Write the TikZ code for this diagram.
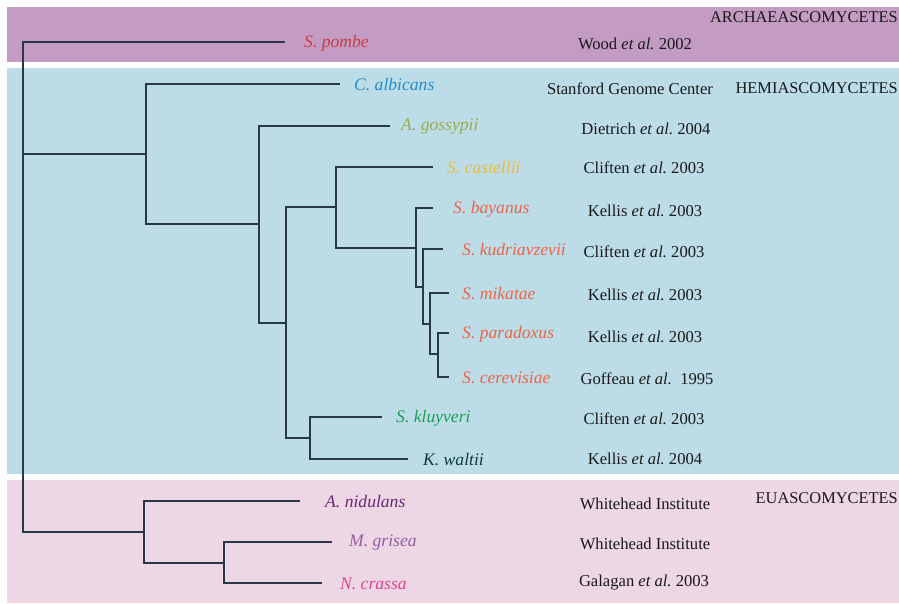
\documentclass[tikz,border=0pt]{standalone}
\usepackage{fontspec}
\setmainfont{Liberation Serif}
\definecolor{bandA}{RGB}{196,155,195}
\definecolor{bandH}{RGB}{188,221,232}
\definecolor{bandE}{RGB}{237,215,229}
\definecolor{branch}{RGB}{40,56,72}
\definecolor{cpombe}{RGB}{200,60,66}
\definecolor{calb}{RGB}{38,140,200}
\definecolor{cgos}{RGB}{152,172,74}
\definecolor{ccas}{RGB}{238,186,62}
\definecolor{csac}{RGB}{238,100,72}
\definecolor{cklu}{RGB}{30,158,82}
\definecolor{cwal}{RGB}{16,60,56}
\definecolor{cnid}{RGB}{104,40,120}
\definecolor{cgri}{RGB}{150,92,160}
\definecolor{ccra}{RGB}{222,66,140}
\definecolor{txt}{RGB}{25,25,25}
\tikzset{
  br/.style={draw=branch,line width=1.6pt,line join=miter},
  sp/.style={anchor=west,inner sep=0pt,font=\fontsize{17.6}{19}\selectfont\itshape},
  ref/.style={anchor=center,inner sep=0pt,text=txt,font=\fontsize{16.6}{19}\selectfont},
  grp/.style={anchor=east,inner sep=0pt,text=txt,font=\fontsize{16.4}{19}\selectfont},
}
\newcommand{\etal}{\textit{et al.}}
\begin{document}
\begin{tikzpicture}[x=1pt,y=-1pt]
\useasboundingbox (0,0) rectangle (899,604);
% bands
\fill[bandA] (7,7) rectangle (899,62);
\fill[bandH] (7,68) rectangle (899,474);
\fill[bandE] (7,480) rectangle (899,603);
% group labels
\node[grp] (gA) at (898,17) {ARCHAEASCOMYCETES};
\node[grp] (gH) at (898,88) {HEMIASCOMYCETES};
\node[grp] (gE) at (898,498) {EUASCOMYCETES};
% branch tips
\coordinate (tpombe) at (285,42);
\coordinate (talb) at (340,84);
\coordinate (tgos) at (390,126);
\coordinate (tcas) at (433,167);
\coordinate (tbay) at (433,208);
\coordinate (tkud) at (443,249);
\coordinate (tmik) at (449,293);
\coordinate (tpar) at (449,333);
\coordinate (tcer) at (449,377);
\coordinate (tklu) at (382,417);
\coordinate (twal) at (408,459);
\coordinate (tnid) at (300,501);
\coordinate (tgri) at (332,542);
\coordinate (tcra) at (322,583);
% internal nodes
\coordinate (root) at (23,42);
\coordinate (hemi) at (146,154);
\coordinate (nA) at (259,224);
\coordinate (nB) at (286,323);
\coordinate (nC) at (336,207);
\coordinate (nD) at (416,248);
\coordinate (nE) at (423,287);
\coordinate (nF) at (430,324);
\coordinate (nG) at (438,354);
\coordinate (nK) at (310,438);
\coordinate (eu) at (144,532);
\coordinate (nM) at (224,563);
% species labels
\node[sp,text=cpombe] (lpombe) at (304,43) {S. pombe};
\node[sp,text=calb] (lalb) at (354,85) {C. albicans};
\node[sp,text=cgos] (lgos) at (401,127) {A. gossypii};
\node[sp,text=ccas] (lcas) at (447,168) {S. castellii};
\node[sp,text=csac] (lbay) at (453,209) {S. bayanus};
\node[sp,text=csac] (lkud) at (462,250) {S. kudriavzevii};
\node[sp,text=csac] (lmik) at (462,294) {S. mikatae};
\node[sp,text=csac] (lpar) at (462,334) {S. paradoxus};
\node[sp,text=csac] (lcer) at (462,378) {S. cerevisiae};
\node[sp,text=cklu] (lklu) at (396,418) {S. kluyveri};
\node[sp,text=cwal] (lwal) at (423,460) {K. waltii};
\node[sp,text=cnid] (lnid) at (325,502) {A. nidulans};
\node[sp,text=cgri] (lgri) at (349,543) {M. grisea};
\node[sp,text=ccra] (lcra) at (340,584) {N. crassa};
% references
\node[ref] (rpombe) at (635,44) {Wood \etal\ 2002};
\node[ref] (ralb) at (630,89) {Stanford Genome Center};
\node[ref] (rgos) at (646,129) {Dietrich \etal\ 2004};
\node[ref] (rcas) at (644,168) {Cliften \etal\ 2003};
\node[ref] (rbay) at (645,211) {Kellis \etal\ 2003};
\node[ref] (rkud) at (644,252) {Cliften \etal\ 2003};
\node[ref] (rmik) at (645,295) {Kellis \etal\ 2003};
\node[ref] (rpar) at (645,337) {Kellis \etal\ 2003};
\node[ref] (rcer) at (647,379) {Goffeau \etal\ \ 1995};
\node[ref] (rklu) at (644,419) {Cliften \etal\ 2003};
\node[ref] (rwal) at (645,459) {Kellis \etal\ 2004};
\node[ref] (rnid) at (645,504) {Whitehead Institute};
\node[ref] (rgri) at (645,544) {Whitehead Institute};
\node[ref] (rcra) at (644,583) {Galagan \etal\ 2003};
% tree
\draw[br] (tpombe) -| (root) |- (eu);
\draw[br] (root |- hemi) -- (hemi);
\draw[br] (talb) -| (hemi) |- (nA);
\draw[br] (tgos) -| (nA) |- (nB);
\draw[br] (nC) -| (nB) |- (nK);
\draw[br] (tcas) -| (nC) |- (nD);
\draw[br] (tbay) -| (nD) |- (nE);
\draw[br] (tkud) -| (nE) |- (nF);
\draw[br] (tmik) -| (nF) |- (nG);
\draw[br] (tpar) -| (nG) |- (tcer);
\draw[br] (tklu) -| (nK) |- (twal);
\draw[br] (tnid) -| (eu) |- (nM);
\draw[br] (tgri) -| (nM) |- (tcra);
\end{tikzpicture}
\end{document}
